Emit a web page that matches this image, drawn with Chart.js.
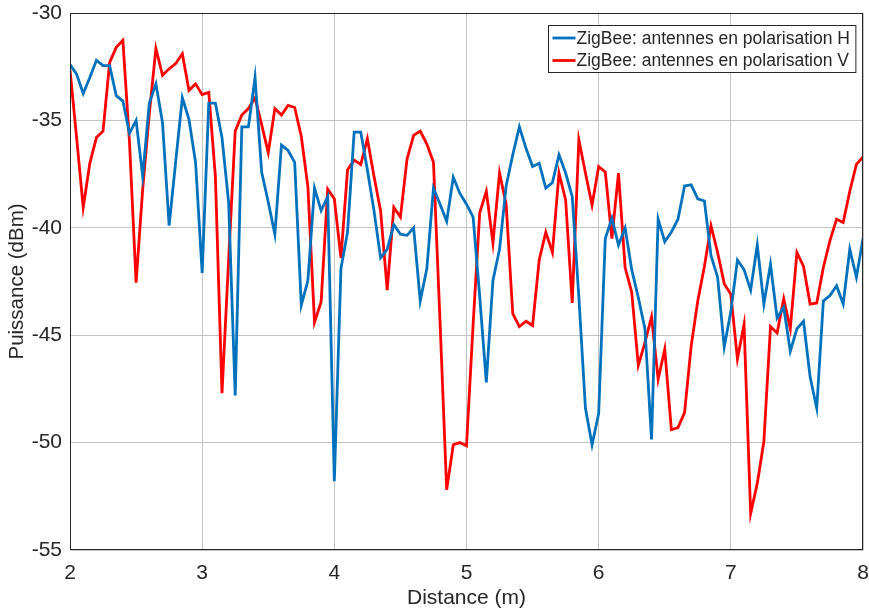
<!DOCTYPE html>
<html>
<head>
<meta charset="utf-8">
<script src="https://cdn.jsdelivr.net/npm/chart.js@4"></script>
<style>
  body { margin: 0; background: #fff; }
  canvas { display: block; }
</style>
</head>
<body>
<canvas id="puissanceChart" width="869" height="612"></canvas>
<script>
// distance grid: 2 m to 8 m, one sample every 5 cm
const distStart = 2;
const distStep = 0.05;

const labelH = 'ZigBee: antennes en polarisation H';
const labelV = 'ZigBee: antennes en polarisation V';

// puissance recue (dBm), polarisation H
const puissanceH = [
    -32.4, -32.85, -33.75, -33.0, -32.2, -32.45, -32.45, -33.85, -34.1, -35.6,
    -35.0, -37.6, -34.2, -33.3, -35.1, -39.9, -36.9, -33.95, -34.95, -36.95,
    -42.1, -34.2, -34.2, -35.8, -38.8, -47.8, -35.3, -35.3, -33.0, -37.4,
    -38.8, -40.3, -36.15, -36.4, -36.95, -43.6, -42.45, -38.15, -39.2, -38.55,
    -51.8, -41.9, -40.2, -35.55, -35.55, -37.3, -39.2, -41.4, -41.0, -39.85,
    -40.3, -40.35, -40.0, -43.4, -41.9, -38.15, -38.9, -39.7, -37.65, -38.4,
    -38.9, -39.5, -43.2, -47.2, -42.45, -41.0, -38.05, -36.6, -35.3, -36.3,
    -37.15, -37.0, -38.15, -37.9, -36.6, -37.45, -38.55, -43.2, -48.4, -50.1,
    -48.65, -40.5, -39.55, -40.8, -40.0, -41.95, -43.25, -44.7, -49.85, -39.6,
    -40.65, -40.2, -39.6, -38.05, -38.0, -38.65, -38.75, -41.3, -42.3, -45.55,
    -43.9, -41.5, -41.95, -42.9, -40.8, -43.55, -41.7, -44.2, -43.7, -45.75,
    -44.7, -44.35, -46.95, -48.4, -43.4, -43.15, -42.7, -43.55, -41.0, -42.3,
    -40.5
];

// puissance recue (dBm), polarisation V
const puissanceV = [
    -32.65, -35.8, -39.05, -37.0, -35.8, -35.5, -32.3, -31.6, -31.27, -36.0,
    -42.55, -38.2, -34.7, -31.65, -32.9, -32.6, -32.35, -31.9, -33.6, -33.3,
    -33.8, -33.7, -37.6, -47.7, -41.5, -35.5, -34.75, -34.45, -33.95, -35.2,
    -36.5, -34.45, -34.75, -34.3, -34.4, -35.75, -38.1, -44.4, -43.45, -38.2,
    -38.65, -41.4, -37.3, -36.85, -37.05, -35.85, -37.6, -39.2, -42.9, -39.05,
    -39.5, -36.8, -35.7, -35.5, -36.1, -36.95, -44.4, -52.2, -50.1, -50.0,
    -50.15, -44.5, -39.3, -38.3, -40.7, -37.45, -38.9, -44.0, -44.6, -44.35,
    -44.55, -41.5, -40.2, -41.15, -37.45, -38.7, -43.5, -35.9, -37.45, -38.95,
    -37.15, -37.4, -40.5, -37.45, -41.85, -43.0, -46.4, -45.35, -44.15, -47.05,
    -45.65, -49.4, -49.3, -48.6, -45.5, -43.4, -41.8, -39.9, -41.15, -42.6,
    -43.1, -46.1, -44.5, -53.3, -51.9, -49.95, -44.6, -44.9, -43.3, -44.7,
    -41.15, -41.8, -43.55, -43.5, -41.85, -40.6, -39.6, -39.75, -38.3, -37.05,
    -36.7
];

const xTicks = [2, 3, 4, 5, 6, 7, 8];
const yTicks = [-55, -50, -45, -40, -35, -30];

function toPoints(values) {
    return values.map((v, i) => ({ x: +(distStart + i * distStep).toFixed(2), y: v }));
}

const axisColor = '#262626';
const gridColor = '#c4c4c4';
const fontFamily = '"Liberation Sans", Arial, sans-serif';

// box around the axes + legend in the top right corner, MATLAB style
const matlabFrame = {
    id: 'matlabFrame',
    afterDraw(chart) {
        const ctx = chart.ctx;
        const a = chart.chartArea;
        ctx.save();
        ctx.strokeStyle = axisColor;
        ctx.lineWidth = 1;
        ctx.strokeRect(Math.round(a.left) + 0.5, Math.round(a.top) + 0.5,
            Math.round(a.width) - 1, Math.round(a.height) - 1);

        ctx.font = '17.5px ' + fontFamily;
        const sets = chart.data.datasets;
        const textW = Math.max(...sets.map(d => ctx.measureText(d.label).width));
        const boxW = textW + 34;
        const boxH = 47;
        const boxX = Math.round(a.right - 8 - boxW) + 0.5;
        const boxY = 25.5;
        ctx.fillStyle = '#fff';
        ctx.fillRect(boxX, boxY, boxW, boxH);
        ctx.strokeStyle = axisColor;
        ctx.strokeRect(boxX, boxY, boxW, boxH);
        ctx.textBaseline = 'middle';
        sets.forEach((d, i) => {
            const cy = boxY + 12.5 + i * 22.5;
            ctx.strokeStyle = d.borderColor;
            ctx.lineWidth = 2.8;
            ctx.beginPath();
            ctx.moveTo(boxX + 4, cy);
            ctx.lineTo(boxX + 27, cy);
            ctx.stroke();
            ctx.fillStyle = axisColor;
            ctx.fillText(d.label, boxX + 28, cy + 1);
        });
        ctx.restore();
    }
};

const ctx = document.getElementById('puissanceChart').getContext('2d');
new Chart(ctx, {
    type: 'line',
    data: {
        datasets: [{
            label: labelH,
            data: toPoints(puissanceH),
            borderColor: '#0072BD',
            borderWidth: 2.8,
            pointRadius: 0,
            tension: 0,
            fill: false
        }, {
            label: labelV,
            data: toPoints(puissanceV),
            borderColor: '#FF0000',
            borderWidth: 2.8,
            pointRadius: 0,
            tension: 0,
            fill: false
        }]
    },
    options: {
        responsive: false,
        animation: false,
        devicePixelRatio: 1,
        layout: { padding: { top: 13, right: 6, left: 0, bottom: 0 } },
        plugins: {
            legend: { display: false },
            tooltip: { enabled: false }
        },
        scales: {
            x: {
                type: 'linear',
                min: 2,
                max: 8,
                afterBuildTicks: s => { s.ticks = xTicks.map(v => ({ value: v })); },
                afterFit: s => { s.height = 62; s.paddingLeft = 0; s.paddingRight = 0; },
                ticks: { color: axisColor, font: { family: fontFamily, size: 21 }, padding: 11, maxRotation: 0 },
                grid: { color: gridColor, drawTicks: false },
                border: { display: false },
                title: {
                    display: true,
                    text: 'Distance (m)',
                    color: axisColor,
                    font: { family: fontFamily, size: 21 },
                    padding: { top: 0, bottom: 1 }
                }
            },
            y: {
                min: -55,
                max: -30,
                afterBuildTicks: s => { s.ticks = yTicks.map(v => ({ value: v })); },
                afterFit: s => { s.width = 70; s.paddingTop = 0; s.paddingBottom = 0; },
                ticks: { color: axisColor, font: { family: fontFamily, size: 21 }, padding: 8 },
                grid: { color: gridColor, drawTicks: false },
                border: { display: false },
                title: {
                    display: true,
                    text: 'Puissance (dBm)',
                    color: axisColor,
                    font: { family: fontFamily, size: 20.5 },
                    padding: { top: 5, bottom: 0 }
                }
            }
        }
    },
    plugins: [matlabFrame]
});
</script>
</body>
</html>
